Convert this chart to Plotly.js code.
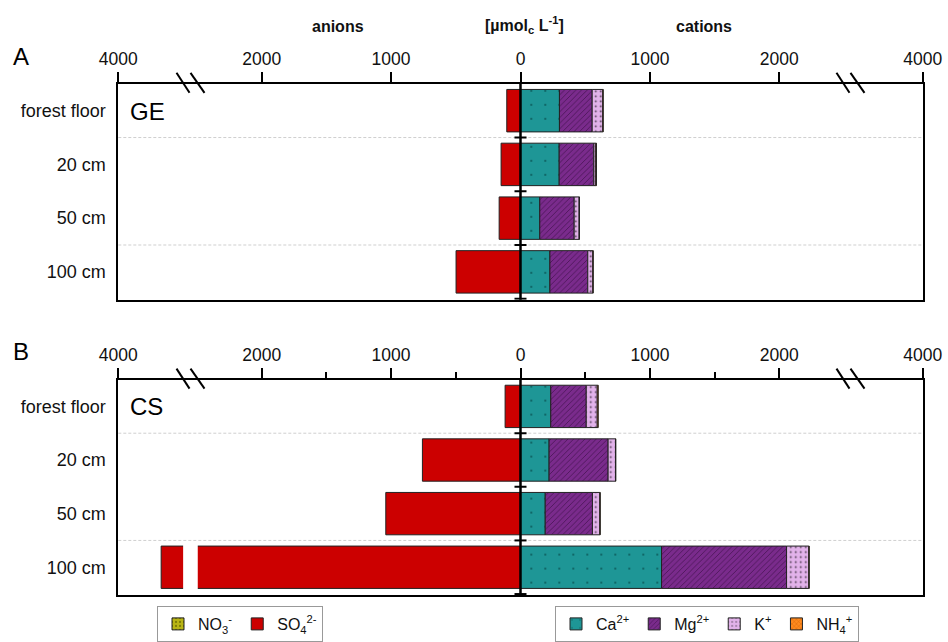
<!DOCTYPE html>
<html>
<head>
<meta charset="utf-8">
<script src="https://cdn.plot.ly/plotly-3.0.1.min.js"></script>
<style>html,body{margin:0;padding:0;background:#fff;}#chart{width:948px;height:642px;}</style>
</head>
<body>
<div id="chart"></div>
<script>
// ---- data (µmol_c L-1) ----
const categories = ['forest floor', '20 cm', '50 cm', '100 cm'];

// GE
const no3_GE = [3, 3, 3, 3];
const so4_GE = [103, 147, 162, 495];
const ca_GE  = [301, 299, 149, 227];
const mg_GE  = [253, 268, 266, 293];
const k_GE   = [82, 15, 38, 39];
const nh4_GE = [3, 5, 3, 3];

// CS
const no3_CS = [3, 3, 3, 3];
const so4_CS = [116, 755, 1038, 3180];
const ca_CS  = [234, 221, 191, 1090];
const mg_CS  = [274, 456, 365, 966];
const k_CS   = [85, 57, 57, 172];
const nh4_CS = [8, 3, 3, 3];

const tickValues = [-4000, -2000, -1000, 0, 1000, 2000, 4000];
const tickLabels = ['4000', '2000', '1000', '0', '1000', '2000', '4000'];
const minorValues = [-1500, -500, 500, 1500];

// ---- broken axis transform ----
const BRK = 2500, XMAX = 3108, VMAX = 4000;
const K = (XMAX - BRK) / (VMAX - BRK);
function f(v) {
  const a = Math.abs(v), s = Math.sign(v);
  return a <= BRK ? v : s * (BRK + (a - BRK) * K);
}
// convert stacked series into display increments
function stackDisplay(seriesList, sign) {
  const n = seriesList[0].length;
  const cum = new Array(n).fill(0);
  return seriesList.map(s => s.map((v, i) => {
    const prev = cum[i];
    cum[i] += v;
    return f(sign * cum[i]) - f(sign * prev);
  }));
}

const FONT = 'Liberation Sans, Arial, sans-serif';
const styles = {
  no3: {name: 'NO<sub>3</sub><sup>-</sup>', color: '#b8b414', pattern: {shape: '.', fgcolor: '#6b6a00', size: 5, solidity: 0.2}, legend: 'legend'},
  so4: {name: 'SO<sub>4</sub><sup>2-</sup>', color: '#cc0000', pattern: null, legend: 'legend'},
  ca:  {name: 'Ca<sup>2+</sup>', color: '#1e9696', pattern: {shape: '.', fgcolor: '#0c5c5c', size: 14, solidity: 0.02}, legend: 'legend2'},
  mg:  {name: 'Mg<sup>2+</sup>', color: '#7a2b8c', pattern: {shape: '/', fgcolor: '#3a0e44', fgopacity: 0.8, size: 4, solidity: 0.2}, legend: 'legend2'},
  k:   {name: 'K<sup>+</sup>', color: '#e2b2ea', pattern: {shape: '.', fgcolor: '#4a3a4e', size: 5, solidity: 0.1}, legend: 'legend2'},
  nh4: {name: 'NH<sub>4</sub><sup>+</sup>', color: '#ff8a1e', pattern: {shape: 'x', fgcolor: '#c85a00', size: 4, solidity: 0.2}, legend: 'legend2'}
};

function makeTrace(key, xvals, xa, ya, show) {
  const st = styles[key];
  const marker = {color: st.color, line: {color: '#222', width: 1}};
  if (st.pattern) marker.pattern = Object.assign({bgcolor: st.color, fillmode: 'replace'}, st.pattern);
  return {
    type: 'bar', orientation: 'h', y: categories, x: xvals,
    name: st.name, marker: marker, xaxis: xa, yaxis: ya,
    showlegend: show, legend: st.legend, hoverinfo: 'skip'
  };
}

const traces = [];
function addPanel(d, xa, ya, show) {
  const neg = stackDisplay([d.so4, d.no3], -1);
  const pos = stackDisplay([d.ca, d.mg, d.k, d.nh4], 1);
  traces.push(makeTrace('no3', neg[1], xa, ya, show));
  traces.push(makeTrace('so4', neg[0], xa, ya, show));
  traces.push(makeTrace('ca', pos[0], xa, ya, show));
  traces.push(makeTrace('mg', pos[1], xa, ya, show));
  traces.push(makeTrace('k', pos[2], xa, ya, show));
  traces.push(makeTrace('nh4', pos[3], xa, ya, show));
}
addPanel({no3: no3_GE, so4: so4_GE, ca: ca_GE, mg: mg_GE, k: k_GE, nh4: nh4_GE}, 'x', 'y', false);
addPanel({no3: no3_CS, so4: so4_CS, ca: ca_CS, mg: mg_CS, k: k_CS, nh4: nh4_CS}, 'x2', 'y2', true);

const W = 948, H = 642;
const xDom = [118.3 / W, 922.7 / W];
const yDomA = [1 - 304 / H, 1 - 85 / H];
const yDomB = [1 - 603.5 / H, 1 - 385 / H];

function xAxis(anchor, minor) {
  const ax = {
    domain: xDom, anchor: anchor, side: 'top', range: [-XMAX, XMAX], fixedrange: true,
    tickmode: 'array', tickvals: tickValues.map(f), ticktext: tickLabels,
    ticks: 'outside', ticklen: 10, tickwidth: 2, tickcolor: '#000',
    showline: true, linewidth: 2, linecolor: '#000', mirror: true,
    showgrid: false, zeroline: false, ticklabelstandoff: 0,
    tickfont: {family: FONT, size: 17.5, color: '#111'}
  };
  if (minor) ax.minor = {tickmode: 'array', tickvals: minorValues.map(f), ticks: 'outside', ticklen: 6, tickwidth: 2, tickcolor: '#000', showgrid: false};
  return ax;
}
function yAxis(dom, anchor) {
  return {
    domain: dom, anchor: anchor, type: 'category', categoryarray: categories,
    autorange: 'reversed', fixedrange: true,
    showline: true, linewidth: 2, linecolor: '#000', mirror: true,
    ticks: '', showgrid: false, zeroline: false, ticklabelstandoff: 7,
    tickfont: {family: FONT, size: 18, color: '#111'}
  };
}

const shapes = [];
[['x', 'y'], ['x2', 'y2']].forEach(([xa, ya]) => {
  // dashed separators
  [0.5, 2.5].forEach(b => shapes.push({type: 'line', xref: xa + ' domain', yref: ya, x0: 0, x1: 1, y0: b, y1: b,
    line: {color: '#cfcfcf', width: 1, dash: '3px,2px'}, layer: 'below'}));
  // center line
  shapes.push({type: 'line', xref: xa, yref: ya + ' domain', x0: 0, x1: 0, y0: 0, y1: 1, line: {color: '#000', width: 2.5}, layer: 'above'});
  // small marks on center line
  [0.5, 1.5, 2.5, 3.5].forEach(b => shapes.push({type: 'line', xref: xa, xsizemode: 'pixel', xanchor: 0, x0: -6, x1: 6,
    yref: ya, y0: b, y1: b, line: {color: '#000', width: 2}, layer: 'above'}));
  // axis break marks
  [-2550, 2550].forEach(c => {
    [[-14, -1], [0, 14]].forEach(([a, b]) => shapes.push({type: 'line', xref: xa, xsizemode: 'pixel', xanchor: c,
      x0: a, x1: b, yref: ya + ' domain', ysizemode: 'pixel', yanchor: 1, y0: 11, y1: -9,
      line: {color: '#000', width: 2}, layer: 'above'}));
  });
});
// gap in the broken bar (CS, 100 cm)
shapes.push({type: 'rect', xref: 'x2', yref: 'y2', x0: -2607, x1: -2494, y0: 2.55, y1: 3.45,
  fillcolor: '#fff', line: {width: 0}, layer: 'above'});

const annFont = {family: FONT, size: 16, color: '#111'};
function ann(text, x, y, font, xanchor) {
  return {text: text, x: x / W, y: 1 - y / H, xref: 'paper', yref: 'paper', xanchor: xanchor || 'center', yanchor: 'middle', showarrow: false, font: font};
}
const bigFont = {family: FONT, size: 24, color: '#000'};
const annotations = [
  ann('<b>anions</b>', 338, 27, annFont),
  ann('<b>[µmol<sub>c</sub> L<sup>-1</sup>]</b>', 524, 25, annFont),
  ann('<b>cations</b>', 704, 27, annFont),
  ann('A', 11, 57, bigFont, 'left'),
  ann('B', 11, 356, bigFont, 'left'),
  ann('GE', 128, 113, bigFont, 'left'),
  ann('CS', 128, 412, bigFont, 'left')
];

const legendBase = {orientation: 'h', yanchor: 'top', xanchor: 'left', bgcolor: '#fff', bordercolor: '#999', borderwidth: 1,
  font: {family: FONT, size: 16, color: '#111'}, traceorder: 'normal', itemclick: false, itemdoubleclick: false};

const layout = {
  width: W, height: H, margin: {l: 0, r: 0, t: 0, b: 0},
  paper_bgcolor: '#fff', plot_bgcolor: '#fff',
  barmode: 'relative', bargap: 0.21,
  font: {family: FONT},
  xaxis: xAxis('y', false), yaxis: yAxis(yDomA, 'x'),
  xaxis2: xAxis('y2', true), yaxis2: yAxis(yDomB, 'x2'),
  legend: Object.assign({}, legendBase, {x: 157 / W, y: 1 - 615 / H}),
  legend2: Object.assign({}, legendBase, {x: 555 / W, y: 1 - 615 / H}),
  shapes: shapes, annotations: annotations
};

Plotly.newPlot('chart', traces, layout, {displayModeBar: false, staticPlot: true});
</script>
</body>
</html>
